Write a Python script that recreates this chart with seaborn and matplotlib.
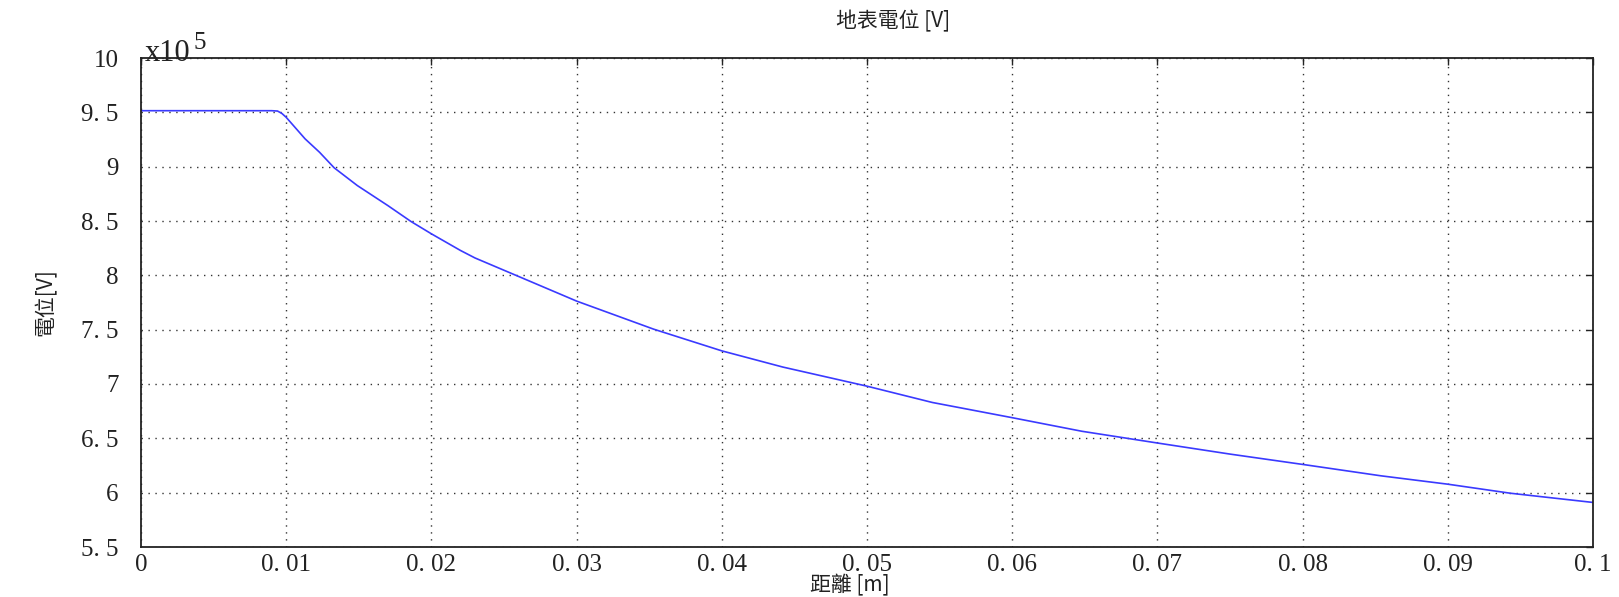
import numpy as np
import pandas as pd
import matplotlib
matplotlib.use("Agg")
import matplotlib.pyplot as plt
import seaborn as sns

# Data (potential in units of 1e5 V)
distance_m = [0.0, 0.0090, 0.0094, 0.0097, 0.0100, 0.0113, 0.0123, 0.0133, 0.0149,
              0.0170, 0.0186, 0.0200, 0.0220, 0.0230, 0.0260, 0.0300, 0.0353,
              0.0400, 0.0442, 0.0500, 0.0545, 0.0600, 0.0648, 0.0700, 0.0750,
              0.0800, 0.0854, 0.0900, 0.0943, 0.1000]
potential_e5 = [9.515, 9.515, 9.512, 9.49, 9.454, 9.256, 9.132, 8.990, 8.826,
                8.642, 8.495, 8.382, 8.229, 8.160, 7.990, 7.763, 7.505,
                7.305, 7.156, 6.980, 6.830, 6.690, 6.565, 6.457, 6.355,
                6.260, 6.155, 6.078, 5.995, 5.910]

x_ticks = [0, 0.01, 0.02, 0.03, 0.04, 0.05, 0.06, 0.07, 0.08, 0.09, 0.1]
x_tick_labels = ["0", "0. 01", "0. 02", "0. 03", "0. 04", "0. 05", "0. 06",
                 "0. 07", "0. 08", "0. 09", "0. 1"]
y_ticks = [5.5, 6, 6.5, 7, 7.5, 8, 8.5, 9, 9.5, 10]
y_tick_labels = ["5. 5", "6", "6. 5", "7", "7. 5", "8", "8. 5", "9", "9. 5", "10"]

title_text = "地表電位 [V]"
x_label = "距離 [m]"
y_label = "電位[V]"

sns.set_theme(style="white")
plt.rcParams['font.family'] = ['Liberation Serif', 'Noto Sans CJK TC', 'DejaVu Sans']

df = pd.DataFrame({"x": distance_m, "y": [v * 1e5 for v in potential_e5]})

fig = plt.figure(figsize=(16.19, 5.97), dpi=100)
ax = fig.add_axes([141 / 1619, 1 - 547 / 597, (1593 - 141) / 1619, (547 - 58) / 597])

sns.lineplot(data=df, x="x", y="y", ax=ax, color="#3a3aff", linewidth=1.2)

ax.set_xlim(0, 0.1)
ax.set_ylim(5.5e5, 10e5)
ax.set_xticks(x_ticks)
ax.set_xticklabels(x_tick_labels, fontsize=18, color="#222222")
ax.set_yticks([v * 1e5 for v in y_ticks])
ax.set_yticklabels(y_tick_labels, fontsize=18, color="#222222")

ax.grid(True, linestyle=(0, (1, 4)), color="#333333", linewidth=1.0)
ax.tick_params(axis="both", direction="in", top=True, right=True, length=5, width=1,
               colors="#222222", labelcolor="#222222")
ax.tick_params(axis="y", pad=16)
ax.tick_params(axis="x", pad=5)
for s in ax.spines.values():
    s.set_color("#222222")
    s.set_linewidth(1.3)

cjk = ['Noto Sans CJK TC', 'Liberation Serif']
ax.set_title(title_text, fontsize=15, family=cjk, x=0.518, pad=22, color="#222222")
ax.set_xlabel(x_label, fontsize=15, family=cjk, color="#222222")
ax.xaxis.set_label_coords(0.488, -0.078)
ax.xaxis.label.set_verticalalignment("center")
ax.set_ylabel(y_label, fontsize=15, family=cjk, labelpad=18, color="#222222")

# Exponent marker (x10^5) drawn as in MATLAB
fig.text(145 / 1619, 1 - 61 / 597, "x10", fontsize=22, ha="left", va="baseline",
         color="#222222")
fig.text(193 / 1619, 1 - 49 / 597, "5", fontsize=18, ha="left", va="baseline",
         color="#222222")

fig.savefig("out.png", dpi=100, facecolor="white")
